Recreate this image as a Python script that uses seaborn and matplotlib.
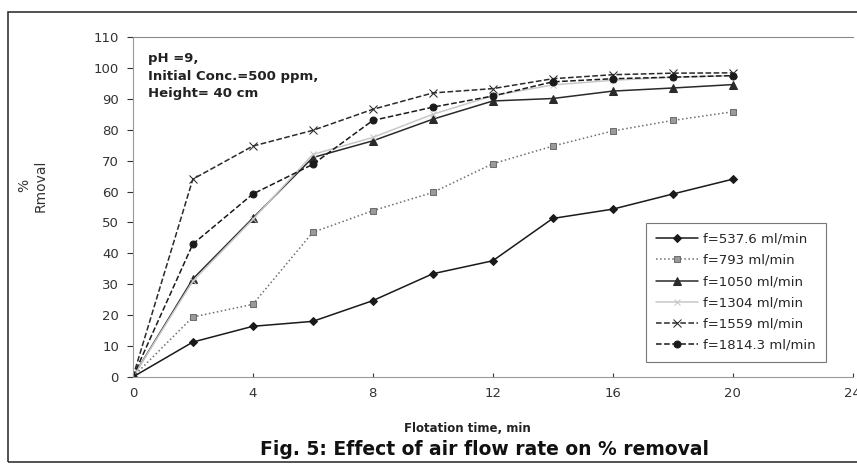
import numpy as np
import pandas as pd
import matplotlib
matplotlib.use("Agg")
import matplotlib.pyplot as plt
from matplotlib.patches import Rectangle
import seaborn as sns

# Flotation time (min)
time_min = [0, 2, 4, 6, 8, 10, 12, 14, 16, 18, 20]

# % removal for each air flow rate
f_537 = [0, 11.3, 16.4, 18, 24.7, 33.4, 37.6, 51.3, 54.3, 59.2, 64]
f_793 = [0, 19.4, 23.5, 46.8, 53.8, 59.7, 69, 74.7, 79.6, 83, 85.8]
f_1050 = [0, 31.7, 51.4, 71, 76.4, 83.4, 89.3, 90.1, 92.5, 93.5, 94.6]
f_1304 = [0, 31, 51, 72, 77.5, 85, 91, 94.5, 96, 97, 97.5]
f_1559 = [0, 64, 74.7, 79.8, 86.6, 91.9, 93.3, 96.5, 97.8, 98.3, 98.4]
f_1814 = [0, 43, 59.2, 68.8, 83, 87.3, 90.9, 95.5, 96.5, 97, 97.5]

labels = ["f=537.6 ml/min", "f=793 ml/min", "f=1050 ml/min",
          "f=1304 ml/min", "f=1559 ml/min", "f=1814.3 ml/min"]
series = [f_537, f_793, f_1050, f_1304, f_1559, f_1814]

styles = [
    dict(color="#1a1a1a", marker="D", ls="-", ms=4.5, mfc="#1a1a1a"),
    dict(color="#6e6e6e", marker="s", ls=":", ms=5, mfc="#9a9a9a"),
    dict(color="#2a2a2a", marker="^", ls="-", ms=5.5, mfc="#2a2a2a"),
    dict(color="#c8c8c8", marker="x", ls="-", ms=5, mfc="#c8c8c8"),
    dict(color="#2a2a2a", marker="x", ls="--", ms=5.5, mfc="#2a2a2a"),
    dict(color="#1a1a1a", marker="o", ls="--", ms=5, mfc="#1a1a1a"),
]

sns.set_style("white")
plt.rcParams["font.family"] = ["DejaVu Sans"]

fig = plt.figure(figsize=(8.57, 4.66), dpi=100)
ax = fig.add_axes([0.155, 0.191, 0.840, 0.7296])

for lab, vals, st in zip(labels, series, styles):
    df = pd.DataFrame({"t": time_min, "r": vals})
    sns.lineplot(data=df, x="t", y="r", ax=ax, label=lab,
                 color=st["color"], marker=st["marker"], linestyle=st["ls"],
                 markersize=st["ms"], markerfacecolor=st["mfc"],
                 markeredgecolor=st["color"], linewidth=1.1)

ax.set_xlim(0, 24)
ax.set_ylim(0, 110)
ax.set_xticks(range(0, 25, 4))
ax.set_yticks(range(0, 111, 10))
ax.tick_params(axis="both", labelsize=9.5, colors="#333333")
ax.tick_params(axis="y", direction="out", left=True, length=4, pad=6)
ax.tick_params(axis="x", direction="in", bottom=True, length=3, pad=7)
for s in ["left", "bottom"]:
    ax.spines[s].set_color("#9a9a9a")
ax.spines["top"].set_color("#8a8a8a")
ax.spines["right"].set_visible(False)

ax.set_xlabel("")
ax.set_ylabel("%\nRmoval", fontsize=10, color="#333333", linespacing=1.2)
ax.yaxis.set_label_coords(-0.119, 0.562)

ax.text(0.021, 0.955, "pH =9,\nInitial Conc.=500 ppm,\nHeight= 40 cm",
        transform=ax.transAxes, fontsize=9.5, fontweight="bold",
        va="top", ha="left", linespacing=1.45, color="#222222")

leg = ax.legend(loc="lower right", bbox_to_anchor=(0.972, 0.026),
                fontsize=9.5, frameon=True, fancybox=False,
                edgecolor="#555555", handlelength=3.2, handletextpad=0.4,
                labelspacing=0.62, borderpad=0.75)
leg.get_frame().set_linewidth(0.8)

fig.text(0.545, 0.072, "Flotation time, min", ha="center", fontsize=8.5,
         fontweight="bold", color="#222222")
fig.text(0.565, 0.024, "Fig. 5: Effect of air flow rate on % removal",
         ha="center", fontsize=13.5, fontweight="bold", color="#111111")

fig.add_artist(Rectangle((8 / 857, 4 / 466), 1.2, 450 / 466,
                         transform=fig.transFigure, fill=False,
                         edgecolor="#333333", linewidth=1.2, clip_on=False))

fig.savefig("out.png", dpi=100)
